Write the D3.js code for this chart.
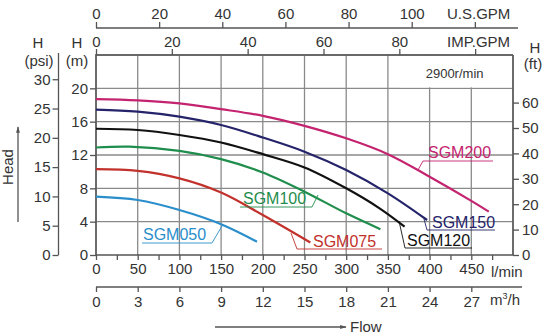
<!DOCTYPE html>
<html><head><meta charset="utf-8">
<script src="https://cdn.jsdelivr.net/npm/d3@7"></script>
<style>
html,body{margin:0;padding:0;background:#fff;}
svg{display:block;font-family:"Liberation Sans",Arial,sans-serif;}
</style></head>
<body><svg id="c" width="550" height="336"></svg>
<script>
// ---- data ----
const flowTicks = [0,50,100,150,200,250,300,350,400,450];
const headTicksM = [0,4,8,12,16,20];
const headTicksPsi = [0,5,10,15,20,25,30];
const headTicksFt = [0,10,20,30,40,50,60];
const usGpmTicks = [0,20,40,60,80,100];
const impGpmTicks = [0,20,40,60,80];
const m3hTicks = [0,3,6,9,12,15,18,21,24,27];

const sgm200Flow = [0,50,100,150,200,250,300,350,400,450,471];
const sgm200Head = [18.7,18.55,18.2,17.5,16.7,15.5,14.0,12.1,9.4,6.5,5.2];
const sgm150Flow = [0,50,100,150,200,250,300,350,397];
const sgm150Head = [17.45,17.2,16.6,15.6,14.1,12.4,10.2,7.4,4.2];
const sgm120Flow = [0,50,100,150,200,250,300,340,370];
const sgm120Head = [15.15,15.0,14.4,13.5,12.1,10.5,8.0,5.6,3.4];
const sgm100Flow = [0,40,100,150,200,250,300,341];
const sgm100Head = [12.9,13.0,12.5,11.5,9.9,7.6,5.0,3.1];
const sgm075Flow = [0,50,100,150,200,257];
const sgm075Head = [10.3,10.1,9.2,7.5,4.8,1.5];
const sgm050Flow = [0,50,100,150,193];
const sgm050Head = [7.0,6.6,5.4,3.7,1.6];

const seriesNames = ["SGM200","SGM150","SGM120","SGM100","SGM075","SGM050"];

// ---- layout ----
const svg = d3.select("#c");
const X0=96, X1=513, Y0=255, Y1=55;
const x = d3.scaleLinear().domain([0,500]).range([X0,X1]);
const y = d3.scaleLinear().domain([0,24]).range([Y0,Y1]);
const yPsi = d3.scaleLinear().domain([0,24/0.70307]).range([Y0,Y1]);
const yFt = d3.scaleLinear().domain([0,24/0.3048]).range([Y0,Y1]);
const xUs = d3.scaleLinear().domain([0,500/3.78541]).range([X0,X1]);
const xImp = d3.scaleLinear().domain([0,500/4.54609]).range([X0,X1]);
const xM3 = d3.scaleLinear().domain([0,30]).range([X0,X1]);

const txt = "#333", axc = "#555", gridc = "#8a8a8a";
const FS = 15;

// grid
const g = svg.append("g");
g.selectAll("line.v").data(flowTicks.concat([500])).enter().append("line")
  .attr("x1",d=>x(d)).attr("x2",d=>x(d)).attr("y1",Y0).attr("y2",Y1)
  .attr("stroke",gridc).attr("stroke-width",1.3);
g.selectAll("line.h").data([4,8,12,16,20,24]).enter().append("line")
  .attr("x1",X0).attr("x2",X1).attr("y1",d=>y(d)).attr("y2",d=>y(d))
  .attr("stroke",gridc).attr("stroke-width",1.3);
// white box for speed label
g.append("rect").attr("x",x(365)).attr("y",Y1+1).attr("width",X1-x(365)-1).attr("height",y(20)-Y1-2).attr("fill","#fff");
g.append("text").attr("x",x(430)).attr("y",78).attr("text-anchor","middle")
  .attr("font-size",13).attr("fill",txt).text("2900r/min");
// border
g.append("line").attr("x1",X0).attr("x2",X0).attr("y1",Y1-1).attr("y2",Y0+1).attr("stroke",axc).attr("stroke-width",1.5);
g.append("line").attr("x1",X1).attr("x2",X1).attr("y1",Y1).attr("y2",Y0).attr("stroke",axc).attr("stroke-width",1.5);
g.append("line").attr("x1",X0).attr("x2",X1).attr("y1",Y0).attr("y2",Y0).attr("stroke",axc).attr("stroke-width",1.5);
g.append("line").attr("x1",X0).attr("x2",X1).attr("y1",Y1).attr("y2",Y1).attr("stroke",axc).attr("stroke-width",1.5);

function styleAxis(sel){
  sel.select(".domain").remove();
  sel.selectAll(".tick line").attr("stroke",axc).attr("stroke-width",1.3);
  sel.selectAll(".tick text").attr("fill",txt).attr("font-size",FS).attr("font-family","Liberation Sans, Arial, sans-serif");
}

// left m axis
const aM = svg.append("g").attr("transform",`translate(${X0},0)`)
  .call(d3.axisLeft(y).tickValues(headTicksM).tickSize(6).tickPadding(2));
styleAxis(aM);
// psi axis
const PX = 58.5;
svg.append("line").attr("x1",PX).attr("x2",PX).attr("y1",53).attr("y2",Y0).attr("stroke",axc).attr("stroke-width",1.3);
const aP = svg.append("g").attr("transform",`translate(${PX},0)`)
  .call(d3.axisLeft(yPsi).tickValues(headTicksPsi).tickSize(6).tickPadding(2));
styleAxis(aP);
// ft axis
const aF = svg.append("g").attr("transform",`translate(${X1},0)`)
  .call(d3.axisRight(yFt).tickValues(headTicksFt).tickSize(6).tickPadding(3));
styleAxis(aF);
// bottom l/min
const aB = svg.append("g").attr("transform",`translate(0,${Y0})`)
  .call(d3.axisBottom(x).tickValues(d3.range(0,476,25)).tickSize(5).tickPadding(3)
  .tickFormat(d=>flowTicks.includes(d)?d:""));
styleAxis(aB);
svg.append("text").attr("x",491).attr("y",277).attr("font-size",FS).attr("fill",txt).text("l/min");
// m3/h axis
const MY = 287;
svg.append("line").attr("x1",X0).attr("x2",522).attr("y1",MY).attr("y2",MY).attr("stroke",axc).attr("stroke-width",1.3);
const aM3 = svg.append("g").attr("transform",`translate(0,${MY})`)
  .call(d3.axisBottom(xM3).tickValues(m3hTicks).tickSize(5).tickPadding(4));
styleAxis(aM3);
const m3 = svg.append("text").attr("x",490).attr("y",305).attr("font-size",FS).attr("fill",txt);
m3.append("tspan").text("m");
m3.append("tspan").attr("dy",-6).attr("font-size",9).text("3");
m3.append("tspan").attr("dy",6).text("/h");
// top US GPM
const UY = 28;
svg.append("line").attr("x1",X0).attr("x2",518).attr("y1",UY).attr("y2",UY).attr("stroke",axc).attr("stroke-width",1.3);
const aU = svg.append("g").attr("transform",`translate(0,${UY})`)
  .call(d3.axisTop(xUs).tickValues(usGpmTicks.concat([120])).tickSize(6).tickPadding(3)
  .tickFormat(d=>d===120?"":d));
styleAxis(aU);
svg.append("text").attr("x",447).attr("y",19).attr("font-size",FS).attr("fill",txt).text("U.S.GPM");
// top IMP GPM
const aI = svg.append("g").attr("transform",`translate(0,${Y1})`)
  .call(d3.axisTop(xImp).tickValues(impGpmTicks.concat([100])).tickSize(6).tickPadding(2)
  .tickFormat(d=>d===100?"":d));
styleAxis(aI);
svg.append("text").attr("x",447).attr("y",47).attr("font-size",FS).attr("fill",txt).text("IMP.GPM");

// unit labels
function lab(t,xx,yy){svg.append("text").attr("x",xx).attr("y",yy).attr("text-anchor","middle").attr("font-size",FS).attr("fill",txt).text(t);}
lab("H",38,48); lab("(psi)",39,66);
lab("H",77,48); lab("(m)",77,66);
lab("H",535,53); lab("(ft)",533,69);

// Flow arrow
const defs = svg.append("defs");
defs.append("marker").attr("id","ah").attr("viewBox","0 0 10 10").attr("refX",9).attr("refY",5)
  .attr("markerWidth",7).attr("markerHeight",5).attr("orient","auto")
  .append("path").attr("d","M0,2 L10,5 L0,8 Z").attr("fill",axc);
svg.append("line").attr("x1",215).attr("x2",346).attr("y1",327).attr("y2",327)
  .attr("stroke",axc).attr("stroke-width",1.3).attr("marker-end","url(#ah)");
svg.append("text").attr("x",350).attr("y",332).attr("font-size",FS).attr("fill",txt).text("Flow");
// Head arrow
svg.append("line").attr("x1",18).attr("x2",18).attr("y1",222).attr("y2",127)
  .attr("stroke",axc).attr("stroke-width",1.3).attr("marker-end","url(#ah)");
svg.append("text").attr("transform","translate(13,167) rotate(-90)").attr("text-anchor","middle")
  .attr("font-size",FS).attr("fill",txt).text("Head");

// curves
const series = [
  {name:"SGM200", flow:sgm200Flow, head:sgm200Head, color:"#c4246f"},
  {name:"SGM150", flow:sgm150Flow, head:sgm150Head, color:"#25246a"},
  {name:"SGM120", flow:sgm120Flow, head:sgm120Head, color:"#111111"},
  {name:"SGM100", flow:sgm100Flow, head:sgm100Head, color:"#1f8d4c"},
  {name:"SGM075", flow:sgm075Flow, head:sgm075Head, color:"#c2312b"},
  {name:"SGM050", flow:sgm050Flow, head:sgm050Head, color:"#2a8ecb"}
];
const line = d3.line().x(d=>x(d[0])).y(d=>y(d[1])).curve(d3.curveCatmullRom.alpha(0.5));
svg.append("g").selectAll("path").data(series).enter().append("path")
  .attr("d",s=>line(s.flow.map((f,i)=>[f,s.head[i]])))
  .attr("fill","none").attr("stroke",s=>s.color).attr("stroke-width",2.2);

// curve labels with leader lines (layout only)
const labels = [
  {i:0, pts:[[418,170],[423,161],[493,161]], tx:428, ty:158},
  {i:1, pts:[[424,219],[427,230],[495,230]], tx:432, ty:228},
  {i:2, pts:[[399,221],[405,248],[472,248]], tx:407, ty:246},
  {i:3, pts:[[318,195],[312,207],[240,207]], tx:243, ty:204},
  {i:4, pts:[[291,233],[297,249],[382,249]], tx:313, ty:247},
  {i:5, pts:[[222,226],[212,243],[142,243]], tx:143, ty:240}
];
labels.forEach(l=>{
  const s = series[l.i];
  svg.append("path").attr("d",d3.line()(l.pts)).attr("fill","none").attr("stroke",s.color).attr("stroke-width",0.9);
  svg.append("text").attr("x",l.tx).attr("y",l.ty).attr("font-size",16).attr("fill",s.color).text(s.name);
});
</script></body></html>
